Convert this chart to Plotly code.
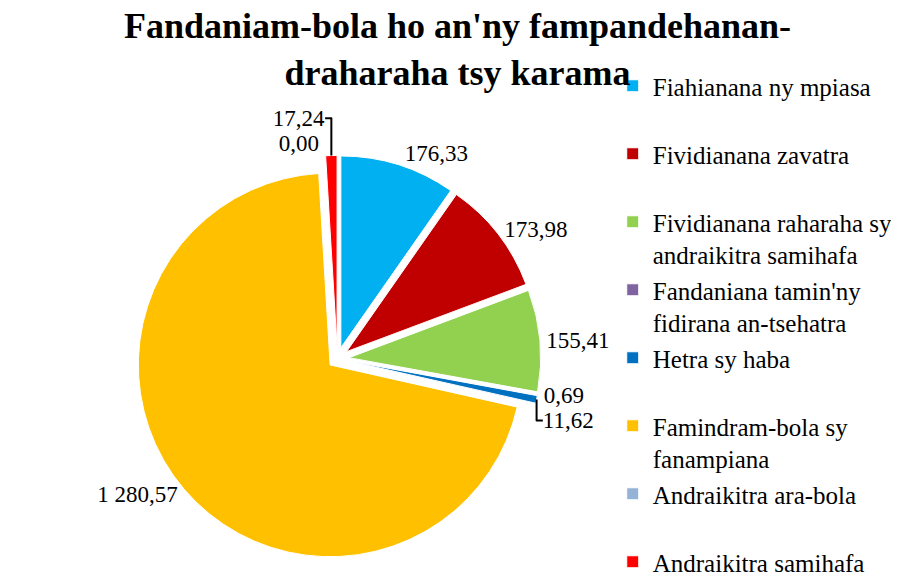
import plotly.graph_objects as go

categories = [
    "Fiahianana ny mpiasa",
    "Fividianana zavatra",
    "Fividianana raharaha sy<br>andraikitra samihafa",
    "Fandaniana tamin'ny<br>fidirana an-tsehatra",
    "Hetra sy haba",
    "Famindram-bola sy<br>fanampiana",
    "Andraikitra ara-bola",
    "Andraikitra samihafa",
]
values = [176.33, 173.98, 155.41, 0.69, 11.62, 1280.57, 0.00, 17.24]
colors = ["#00B0F0", "#C00000", "#92D050", "#8064A2", "#0070C0",
          "#FFC000", "#95B3D7", "#FF0000"]

# legend spacing: pad each label (except the last) to two lines
legend_labels = []
for i, c in enumerate(categories):
    n = c.count("<br>") + 1
    pad = 0 if i == len(categories) - 1 else 2 - n
    legend_labels.append(c + "<br> " * pad)

fig = go.Figure(go.Pie(
    labels=legend_labels,
    values=values,
    sort=False,
    direction="clockwise",
    rotation=0,
    marker=dict(colors=colors, line=dict(color="white", width=1)),
    pull=[0.06, 0.06, 0.06, 0.06, 0.06, 0.05, 0.06, 0.06],
    textposition="outside",
    texttemplate="%{value:,.2f}",
    textfont=dict(family="Liberation Serif", size=23, color="black"),
    domain=dict(x=[0.0, 0.585], y=[0.0, 0.84]),
    hoverinfo="label+value",
))

fig.update_layout(
    width=899, height=577,
    separators=", ",
    paper_bgcolor="white",
    plot_bgcolor="white",
    margin=dict(l=10, r=5, t=70, b=5),
    title=dict(
        text="<b>Fandaniam-bola ho an'ny fampandehanan-<br>draharaha tsy karama</b>",
        x=0.5, xanchor="center", y=0.948, yanchor="top",
        font=dict(family="Liberation Serif", size=36, color="black"),
    ),
    legend=dict(
        x=0.6375, xanchor="left", y=1.0, yanchor="top",
        font=dict(family="Liberation Serif", size=25, color="black"),
        valign="top",
        bgcolor="rgba(0,0,0,0)",
        itemwidth=30,
        maxheight=570,
    ),
)

fig.write_html("out.html")
